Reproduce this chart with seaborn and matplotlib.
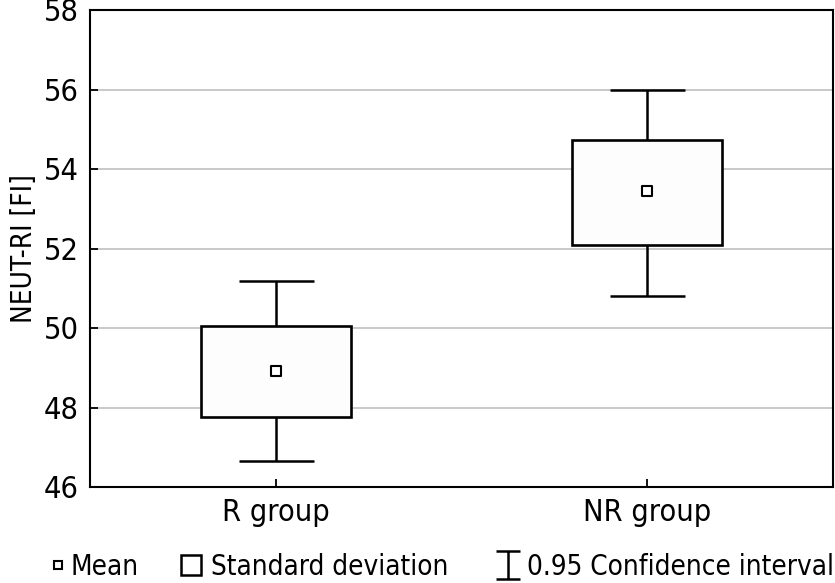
import numpy as np
import seaborn as sns
import matplotlib.pyplot as plt
from matplotlib.lines import Line2D
from matplotlib.patches import Patch
from matplotlib.path import Path

groups = ['R group', 'NR group']
means = [48.92, 53.45]
sd_low = [47.75, 52.09]
sd_high = [50.05, 54.74]
ci_low = [46.65, 50.81]
ci_high = [51.19, 56.0]

sns.set_style('white')
plt.rcParams['font.family'] = ['DejaVu Sans']
plt.rcParams['font.stretch'] = 'condensed'
plt.rcParams['text.color'] = 'black'

W, H = 835, 583
fig = plt.figure(figsize=(W / 100, H / 100), dpi=100)
ax = fig.add_axes([90 / W, (H - 487) / H, 743 / W, 477 / H])

x = np.arange(len(groups))
means = np.array(means)
sd_low = np.array(sd_low)
sd_high = np.array(sd_high)
ci_low = np.array(ci_low)
ci_high = np.array(ci_high)

# whiskers (behind the box)
ax.errorbar(x, means, yerr=[means - ci_low, ci_high - means], fmt='none',
            ecolor='black', elinewidth=1.8, capsize=27, capthick=1.8, zorder=2)
# SD boxes
ax.bar(x, sd_high - sd_low, bottom=sd_low, width=0.403, color='#fdfdfd',
       edgecolor='black', linewidth=1.9, zorder=3)
# means
sns.scatterplot(x=x, y=means, marker='s', s=50, color='white',
                edgecolor='black', linewidth=1.5, ax=ax, zorder=4)

ax.set_xlim(-0.5, 1.5)
ax.set_ylim(46, 58)
ax.set_yticks(np.arange(46, 59, 2))
ax.set_xticks(x)
ax.set_xticklabels(groups)
ax.grid(axis='y', color='#bbbbbb', linewidth=1.1, zorder=0)
ax.set_axisbelow(True)
for s in ax.spines.values():
    s.set_color('black')
    s.set_linewidth(1.5)
ax.tick_params(direction='in', length=6, width=1.3, labelsize=22, pad=8,
               left=True, bottom=True, colors='black', labelcolor='black')
ax.set_ylabel('NEUT-RI [FI]', fontsize=20, labelpad=4, color='black')

fs = 20
ly = (H - 567) / H
leg_kw = dict(loc='center left', frameon=False, fontsize=fs, borderpad=0,
              borderaxespad=0)

mean_h = Line2D([], [], marker='s', linestyle='none', markersize=5.5,
                markerfacecolor='white', markeredgecolor='black', markeredgewidth=1.5)
fig.legend([mean_h], ['Mean'], bbox_to_anchor=(51.5 / W, ly),
           handlelength=0.5, handletextpad=0.17, **leg_kw)

sd_h = Patch(facecolor='white', edgecolor='black', linewidth=1.8)
fig.legend([sd_h], ['Standard deviation'], bbox_to_anchor=(181.2 / W, ly),
           handlelength=0.7, handleheight=0.74, handletextpad=0.36, **leg_kw)

i_path = Path([(-0.92, 1), (0.92, 1), (0, 1), (0, -1), (-0.92, -1), (0.92, -1)],
              [Path.MOVETO, Path.LINETO, Path.MOVETO, Path.LINETO,
               Path.MOVETO, Path.LINETO])
ci_h = Line2D([], [], marker=i_path, linestyle='none', markersize=19.5,
              color='black', markeredgewidth=1.8)
fig.legend([ci_h], ['0.95 Confidence interval'], bbox_to_anchor=(494.1 / W, ly),
           handlelength=1.0, handletextpad=0.18, **leg_kw)

fig.savefig('out.png', dpi=100)
